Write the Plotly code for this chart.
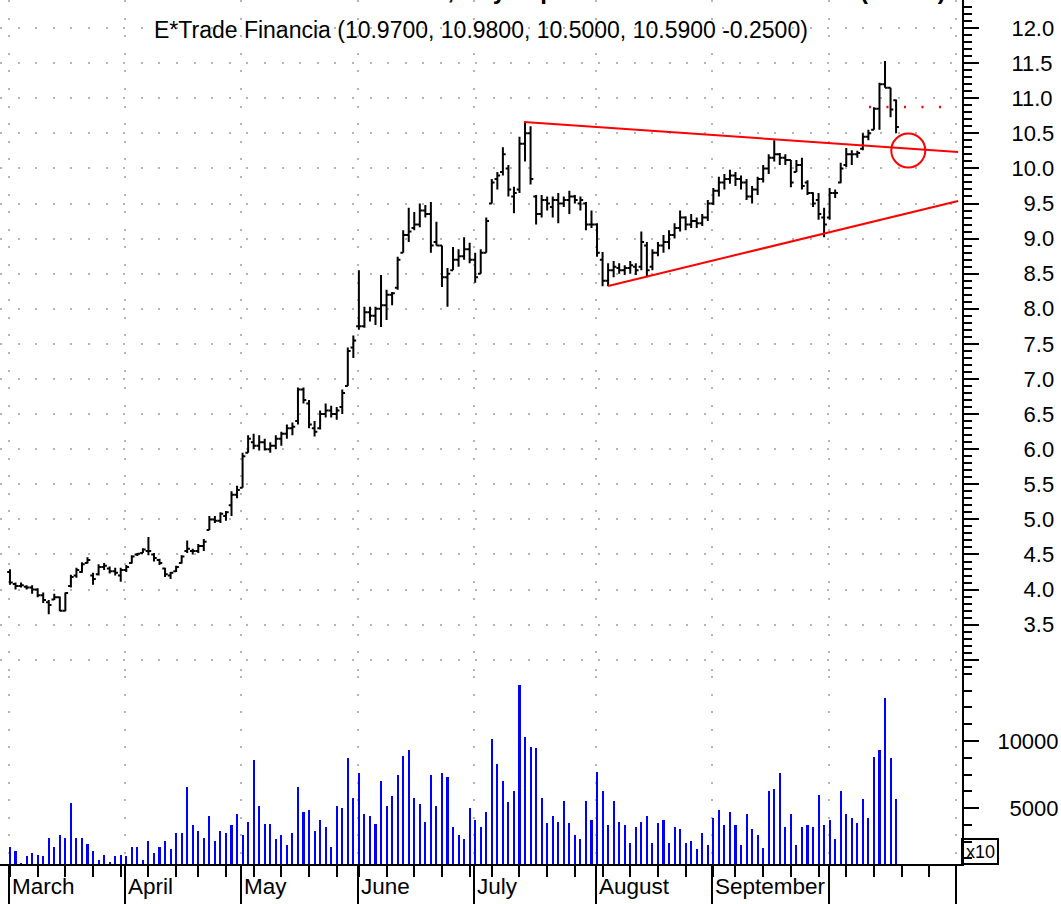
import plotly.graph_objects as go
import pandas as pd

# ---------------- data ----------------
opens = [4.25, 4.08, 4.05, 4.04, 4.03, 4.00, 3.92, 3.82, 3.86, 3.89, 3.70, 4.05, 4.20, 4.25, 4.38, 4.20, 4.22, 4.32, 4.30, 4.26, 4.20,
         4.28, 4.38, 4.50, 4.52, 4.55, 4.50, 4.42, 4.30, 4.20, 4.26, 4.38, 4.55, 4.55, 4.55, 4.62, 4.85, 5.00, 4.98, 5.05, 5.20, 5.35,
         5.45, 5.95, 6.10, 6.05, 6.10, 6.00, 6.05, 6.15, 6.22, 6.30, 6.40, 6.85, 6.65, 6.30, 6.30, 6.50, 6.55, 6.50, 6.60, 6.90, 7.45,
         7.75, 7.75, 7.95, 7.90, 8.00, 8.05, 8.20, 8.30, 8.80, 9.05, 9.15, 9.20, 9.40, 9.35, 8.95, 8.90, 8.45, 8.55, 8.70, 8.75, 8.85,
         8.70, 8.50, 8.80, 9.50, 9.85, 9.95, 10.00, 9.60, 9.70, 10.35, 10.50, 9.60, 9.35, 9.55, 9.45, 9.55, 9.50, 9.55, 9.60, 9.50, 9.50, 9.20,
         9.20, 8.70, 8.40, 8.55, 8.58, 8.55, 8.58, 8.60, 8.60, 8.90, 8.60, 8.80, 8.90, 8.95, 9.05, 9.15, 9.30, 9.20, 9.25, 9.22, 9.30,
         9.50, 9.68, 9.80, 9.85, 9.90, 9.85, 9.80, 9.60, 9.70, 9.85, 10.00, 10.15, 10.20, 10.15, 10.12, 9.95, 10.05, 9.80, 9.65, 9.55, 9.30,
         9.30, 9.65, 9.80, 10.05, 10.20, 10.20, 10.28, 10.45, 10.55, 10.85, 11.20, 11.15, 10.97]
highs = [4.29, 4.10, 4.10, 4.06, 4.06, 4.02, 3.96, 3.85, 3.94, 3.90, 3.96, 4.21, 4.31, 4.39, 4.46, 4.24, 4.36, 4.38, 4.33, 4.31, 4.31,
         4.35, 4.49, 4.52, 4.59, 4.75, 4.52, 4.44, 4.31, 4.25, 4.34, 4.49, 4.70, 4.58, 4.65, 4.72, 5.05, 5.05, 5.10, 5.12, 5.40, 5.48,
         5.95, 6.20, 6.22, 6.20, 6.15, 6.10, 6.20, 6.25, 6.35, 6.38, 6.88, 6.88, 6.70, 6.40, 6.55, 6.65, 6.62, 6.60, 6.85, 7.45, 7.62,
         8.55, 8.03, 8.03, 8.03, 8.48, 8.27, 8.24, 8.74, 9.12, 9.44, 9.38, 9.50, 9.48, 9.52, 9.24, 8.90, 8.58, 8.88, 8.85, 9.02, 8.94,
         8.80, 8.85, 9.30, 9.85, 9.95, 10.30, 10.05, 9.74, 10.45, 10.66, 10.60, 9.62, 9.62, 9.60, 9.60, 9.65, 9.60, 9.68, 9.62, 9.60, 9.52, 9.40,
         9.22, 8.81, 8.65, 8.68, 8.65, 8.62, 8.68, 8.65, 9.10, 8.95, 8.85, 8.95, 9.05, 9.12, 9.22, 9.40, 9.32, 9.35, 9.30, 9.35, 9.55,
         9.72, 9.88, 9.92, 9.98, 9.95, 9.90, 9.85, 9.75, 9.88, 10.05, 10.20, 10.40, 10.22, 10.20, 10.12, 10.12, 10.15, 9.83, 9.66, 9.65, 9.44,
         9.72, 9.70, 10.08, 10.29, 10.26, 10.25, 10.50, 10.55, 10.87, 11.22, 11.53, 11.15, 10.98]
lows = [4.07, 4.00, 4.03, 4.00, 3.94, 3.89, 3.81, 3.65, 3.85, 3.69, 3.69, 4.03, 4.17, 4.24, 4.37, 4.07, 4.20, 4.28, 4.23, 4.20, 4.11,
        4.25, 4.37, 4.48, 4.52, 4.49, 4.40, 4.35, 4.18, 4.15, 4.25, 4.37, 4.52, 4.50, 4.52, 4.55, 4.85, 4.95, 4.95, 4.98, 5.05, 5.30,
        5.45, 5.95, 6.00, 5.98, 5.98, 5.95, 6.00, 6.05, 6.15, 6.20, 6.35, 6.65, 6.30, 6.18, 6.28, 6.45, 6.45, 6.42, 6.50, 6.90, 7.30,
        7.70, 7.73, 7.82, 7.77, 7.74, 7.84, 8.05, 8.27, 8.80, 8.95, 9.12, 9.16, 9.30, 8.80, 8.90, 8.31, 8.03, 8.55, 8.60, 8.70, 8.65,
        8.37, 8.50, 8.80, 9.50, 9.70, 9.90, 9.60, 9.36, 9.65, 10.10, 9.77, 9.20, 9.30, 9.40, 9.30, 9.22, 9.45, 9.35, 9.50, 9.40, 9.12, 9.15,
        8.74, 8.32, 8.32, 8.45, 8.50, 8.48, 8.50, 8.48, 8.55, 8.45, 8.55, 8.75, 8.80, 8.85, 9.00, 9.10, 9.12, 9.15, 9.15, 9.18, 9.25,
        9.48, 9.60, 9.70, 9.78, 9.75, 9.70, 9.55, 9.50, 9.62, 9.80, 9.92, 10.10, 10.05, 10.05, 9.73, 9.95, 9.70, 9.62, 9.45, 9.27, 9.02,
        9.27, 9.58, 9.79, 10.02, 10.05, 10.15, 10.26, 10.40, 10.55, 10.55, 11.15, 10.73, 10.50]
closes = [4.10, 4.05, 4.06, 4.03, 4.00, 3.92, 3.85, 3.78, 3.89, 3.70, 3.95, 4.18, 4.28, 4.36, 4.42, 4.15, 4.32, 4.34, 4.26, 4.24, 4.28,
          4.32, 4.47, 4.51, 4.57, 4.55, 4.45, 4.38, 4.22, 4.24, 4.32, 4.47, 4.58, 4.55, 4.62, 4.68, 5.00, 4.98, 5.08, 5.10, 5.35, 5.42,
          5.90, 6.15, 6.05, 6.10, 6.00, 6.05, 6.15, 6.22, 6.30, 6.32, 6.85, 6.70, 6.35, 6.25, 6.50, 6.55, 6.50, 6.55, 6.80, 7.40, 7.55,
          7.75, 7.95, 7.90, 8.00, 8.05, 8.20, 8.22, 8.70, 9.05, 9.10, 9.20, 9.40, 9.35, 8.90, 8.90, 8.45, 8.50, 8.70, 8.75, 8.85, 8.70,
          8.45, 8.80, 9.25, 9.80, 9.90, 10.20, 9.70, 9.65, 10.35, 10.50, 9.85, 9.35, 9.55, 9.50, 9.55, 9.50, 9.55, 9.60, 9.55, 9.55, 9.20, 9.20,
          8.80, 8.40, 8.55, 8.60, 8.55, 8.58, 8.62, 8.55, 8.95, 8.55, 8.80, 8.90, 8.95, 9.05, 9.15, 9.30, 9.20, 9.25, 9.22, 9.30, 9.50,
          9.68, 9.80, 9.85, 9.90, 9.85, 9.80, 9.60, 9.70, 9.85, 10.00, 10.15, 10.20, 10.15, 10.12, 9.80, 10.05, 9.75, 9.65, 9.50, 9.35, 9.20,
          9.65, 9.65, 10.00, 10.20, 10.20, 10.22, 10.45, 10.50, 10.85, 11.20, 11.15, 10.84, 10.59]
volumes = [2090, 1790, 900, 1420, 1640, 1490, 1420, 2760, 2090, 2990, 2760, 5370, 2760, 2760, 2310, 1790, 1120, 1490, 970, 1420, 1490,
           1420, 2090, 2090, 1120, 2540, 1640, 2090, 2540, 1940, 3130, 3130, 6570, 3730, 3280, 2760, 4400, 2540, 3280, 3130, 3730, 4550,
           2990, 3960, 8580, 5150, 3810, 3810, 2690, 2990, 2240, 3130, 6570, 4700, 4850, 3280, 4100, 3580, 2090, 5150, 5000, 8730, 5750,
           7610, 4550, 4400, 3810, 7010, 5150, 5900, 7460, 8880, 9330, 5750, 5300, 3960, 7460, 5150, 7610, 7310, 3580, 2990, 2690, 5000,
           4100, 3580, 4700, 10150, 8280, 7010, 5450, 6270, 14180, 10300, 9550, 9480, 5750, 3880, 4400, 3960, 5520, 3880, 2990, 2690, 5520, 4100,
           7690, 6270, 3730, 5520, 3960, 3730, 2390, 3580, 3960, 4400, 2390, 3880, 4100, 2390, 3580, 3430, 2390, 2540, 1940, 3130, 2240,
           4250, 4850, 3730, 4700, 3730, 2240, 4550, 3430, 2990, 2020, 6270, 6420, 7610, 3580, 4550, 2240, 3580, 3730, 3580, 5970, 3730,
           4100, 2690, 6270, 4550, 4250, 3880, 5670, 4250, 8810, 9330, 13210, 8730, 5670]

month_names = ["March", "April", "May", "June", "July", "August", "September"]
price_ticks = [3.0, 3.5, 4.0, 4.5, 5.0, 5.5, 6.0, 6.5, 7.0, 7.5, 8.0, 8.5, 9.0, 9.5, 10.0, 10.5, 11.0, 11.5, 12.0]
volume_ticks = [5000, 10000]
holidays = ["2003-04-18", "2003-05-26", "2003-07-04", "2003-09-01"]

# drawn study lines (bar index, price)
upper_trend = [(92.8, 10.66), (171.2, 10.234)]
lower_trend = [(108.0, 8.325), (171.2, 9.536)]
marker_circle = (162.2, 10.255)
prev_close_level = 10.875

# ---------------- calendar -> axis structure ----------------
cal = pd.bdate_range("2003-03-03", "2003-10-31")
cal = cal[~cal.isin(pd.to_datetime(holidays))]
n_cal = len(cal)
month_starts = [i for i in range(n_cal) if i == 0 or cal[i].month != cal[i - 1].month] + [n_cal]
week_starts = [i for i in range(n_cal) if i == 0 or cal[i].isocalendar()[1] != cal[i - 1].isocalendar()[1]]
boundaries = [m - 0.2 for m in month_starts]

xs = list(range(len(closes)))
FONT = "Liberation Sans, Arial, sans-serif"
NB = "\u00a0\u00a0"

fig = go.Figure()
fig.add_trace(go.Ohlc(
    x=xs, open=opens, high=highs, low=lows, close=closes,
    increasing=dict(line=dict(color="black", width=2)),
    decreasing=dict(line=dict(color="black", width=2)),
    tickwidth=0.5, xaxis="x", yaxis="y", hoverinfo="skip", showlegend=False))
fig.add_trace(go.Bar(
    x=xs, y=volumes, width=0.38, marker=dict(color="#0000ff", line=dict(width=0)),
    xaxis="x", yaxis="y2", hoverinfo="skip", showlegend=False))

price_text = [("" if v == 3.0 else (NB if v < 10 else "") + f"{v:.1f}") for v in price_ticks]
vol_text = [(NB if v < 10000 else "") + str(v) for v in volume_ticks]

grid_dash = "2px,15.6px"
fig.update_layout(
    width=1061, height=904,
    margin=dict(l=0, r=99, t=0, b=40),
    paper_bgcolor="white", plot_bgcolor="white",
    font=dict(family=FONT, color="black", size=22),
    bargap=0,
    xaxis=dict(
        domain=[0, 1], anchor="y2", range=[-1.8, 171.9],
        rangeslider=dict(visible=False),
        tickmode="array", tickvals=boundaries, showticklabels=False,
        ticks="outside", ticklen=40, tickwidth=2, tickcolor="black",
        showgrid=True, gridcolor="#b5b5b5", gridwidth=2, griddash=grid_dash,
        showline=True, linecolor="black", linewidth=2,
        zeroline=False,
        minor=dict(tickmode="array", tickvals=week_starts, ticks="outside",
                   ticklen=11, tickwidth=2, tickcolor="black", showgrid=False),
    ),
    yaxis=dict(
        domain=[0.2176, 1], anchor="x", side="right",
        range=[2.769, 12.399],
        tickmode="array", tickvals=price_ticks, ticktext=price_text,
        ticks="outside", ticklen=15, tickwidth=2, tickcolor="black",
        ticklabelstandoff=28,
        tickfont=dict(size=22, family=FONT),
        showgrid=True, gridcolor="#b5b5b5", gridwidth=2, griddash=grid_dash,
        showline=True, linecolor="black", linewidth=2, zeroline=False,
        minor=dict(tickmode="linear", tick0=0, dtick=0.1, ticks="outside",
                   ticklen=8, tickwidth=2, tickcolor="black", showgrid=False),
    ),
    yaxis2=dict(
        domain=[0, 0.2176], anchor="x", side="right",
        range=[821, 14851],
        tickmode="array", tickvals=volume_ticks, ticktext=vol_text,
        ticks="outside", ticklen=15, tickwidth=2, tickcolor="black",
        ticklabelstandoff=14,
        tickfont=dict(size=22, family=FONT),
        showgrid=False,
        showline=True, linecolor="black", linewidth=2, zeroline=False,
        minor=dict(tickmode="linear", tick0=0, dtick=1250, ticks="outside",
                   ticklen=8, tickwidth=2, tickcolor="black", showgrid=False),
    ),
)

shapes = [
    dict(type="line", xref="x", yref="y", x0=upper_trend[0][0], y0=upper_trend[0][1],
         x1=upper_trend[1][0], y1=upper_trend[1][1], line=dict(color="red", width=2)),
    dict(type="line", xref="x", yref="y", x0=lower_trend[0][0], y0=lower_trend[0][1],
         x1=lower_trend[1][0], y1=lower_trend[1][1], line=dict(color="red", width=2)),
    dict(type="circle", xref="x", yref="y",
         x0=marker_circle[0] - 3.07, x1=marker_circle[0] + 3.07,
         y0=marker_circle[1] - 0.242, y1=marker_circle[1] + 0.242,
         line=dict(color="red", width=2)),
    dict(type="line", xref="x", yref="y", x0=155.1, x1=168.8, y0=prev_close_level, y1=prev_close_level,
         line=dict(color="red", width=2.5, dash="2px,15.5px")),
    # x10 box beside the volume axis
    dict(type="rect", xref="paper", yref="paper", x0=1.0, x1=1.0374, y0=0.0, y1=0.0289,
         line=dict(color="black", width=2), fillcolor="rgba(0,0,0,0)"),
]
fig.update_layout(shapes=shapes)

annotations = [
    dict(text="E*Trade Financia (10.9700, 10.9800, 10.5000, 10.5900 -0.2500)",
         xref="paper", yref="paper", x=152 / 962, y=1 - 30 / 864, xanchor="left", yanchor="middle",
         showarrow=False, font=dict(size=23, family=FONT, color="black")),
    dict(text="<b>E*TRADE FINANCIAL CORP, Buy Top Breakout Watch List Alert (DAILY)</b>",
         xref="paper", yref="paper", x=129 / 962, y=1, xanchor="left", yanchor="bottom", yshift=-6,
         showarrow=False, font=dict(size=24, family=FONT, color="black")),
    dict(text="x10", xref="paper", yref="paper", x=980 / 962, y=12 / 864, xanchor="center", yanchor="middle",
         showarrow=False, font=dict(size=18, family=FONT, color="black")),
]
for name, start in zip(month_names, boundaries):
    annotations.append(dict(text=name, xref="x", yref="paper", x=start, y=-22 / 864,
                            xanchor="left", yanchor="middle", xshift=1, showarrow=False,
                            font=dict(size=22.5, family=FONT, color="black")))
fig.update_layout(annotations=annotations)

fig.write_html("out.html", config={"displayModeBar": False},
               post_script="document.body.style.margin='0';document.body.style.padding='0';")
